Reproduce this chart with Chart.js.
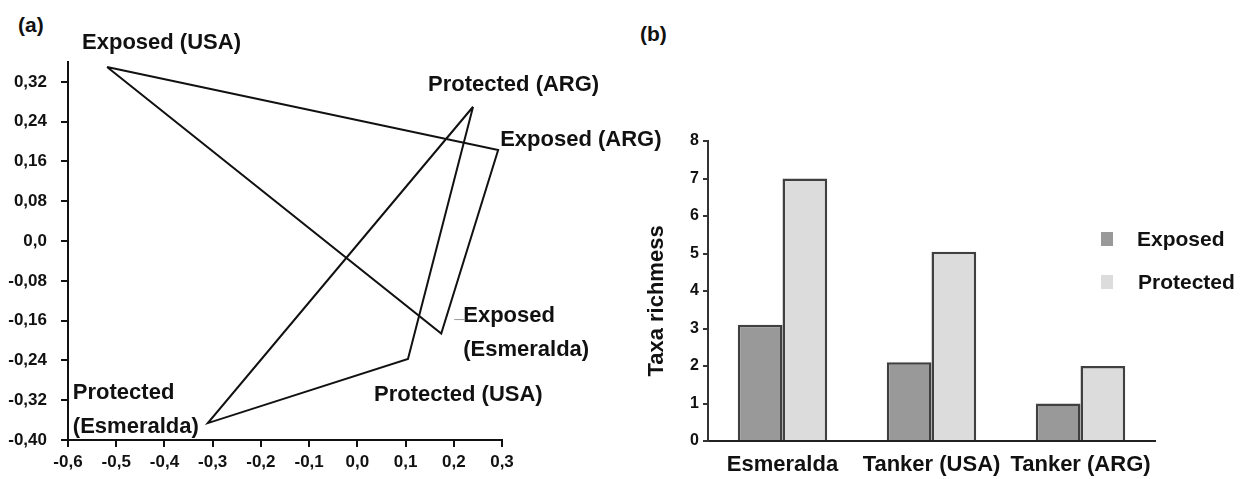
<!DOCTYPE html>
<html>
<head>
<meta charset="utf-8">
<script src="https://cdn.jsdelivr.net/npm/chart.js@4.4.0/dist/chart.umd.min.js"></script>
<style>
  body { margin: 0; background: #fff; width: 1250px; height: 479px; overflow: hidden; position: relative; font-family: 'Liberation Sans', Arial, sans-serif; }
  .box { position: absolute; top: 0; height: 479px; }
  .tag { position: absolute; font-weight: bold; font-size: 21px; line-height: 21px; color: #111; }
</style>
</head>
<body>
<div class="tag" style="left:18px; top:14px;">(a)</div>
<div class="tag" style="left:640px; top:23px;">(b)</div>
<div class="box" style="left:0; width:680px;"><canvas id="pcoa" width="680" height="479"></canvas></div>
<div class="box" style="left:620px; width:630px;"><canvas id="bars" width="630" height="479"></canvas></div>
<script>
// (a) ordination points
var siteNames = ["Exposed (USA)", "Protected (ARG)", "Exposed (ARG)", "Exposed (Esmeralda)", "Protected (USA)", "Protected (Esmeralda)"];
var siteX = [-0.519, 0.240, 0.292, 0.174, 0.105, -0.310];
var siteY = [0.350, 0.270, 0.183, -0.186, -0.237, -0.366];
var exposedOrder = [0, 2, 3, 0];
var protectedOrder = [1, 4, 5, 1];
var xTicks = [-0.6, -0.5, -0.4, -0.3, -0.2, -0.1, 0.0, 0.1, 0.2, 0.3];
var xTickLabels = ["-0,6", "-0,5", "-0,4", "-0,3", "-0,2", "-0,1", "0,0", "0,1", "0,2", "0,3"];
var yTicks = [-0.40, -0.32, -0.24, -0.16, -0.08, 0.0, 0.08, 0.16, 0.24, 0.32];
var yTickLabels = ["-0,40", "-0,32", "-0,24", "-0,16", "-0,08", "0,0", "0,08", "0,16", "0,24", "0,32"];

// (b) taxa richness
var sites = ["Esmeralda", "Tanker (USA)", "Tanker (ARG)"];
var exposedRich = [3.1, 2.1, 1.0];
var protectedRich = [7.0, 5.05, 2.0];

var BOLD = "'Liberation Sans', Arial, sans-serif";

function polyData(order) {
  return order.map(function(i) { return { x: siteX[i], y: siteY[i] }; });
}

// label offsets from each vertex (px), second line for two-line names
var labelPlace = [
  { dx: -25, dy: -18, lines: ["Exposed (USA)"] },
  { dx: -45, dy: -16, lines: ["Protected (ARG)"] },
  { dx: 2, dy: -4, lines: ["Exposed (ARG)"] },
  { dx: 22, dy: -12, lines: ["Exposed", "(Esmeralda)"] },
  { dx: -34, dy: 42, lines: ["Protected (USA)"] },
  { dx: -135, dy: -24, lines: ["Protected", "(Esmeralda)"] }
];

var siteLabels = {
  id: "siteLabels",
  afterDraw: function(chart) {
    var ctx = chart.ctx, xs = chart.scales.x, ys = chart.scales.y;
    ctx.save();
    ctx.fillStyle = "#111";
    ctx.font = "bold 22px " + BOLD;
    ctx.textAlign = "left";
    ctx.textBaseline = "alphabetic";
    siteNames.forEach(function(n, i) {
      var px = xs.getPixelForValue(siteX[i]);
      var py = ys.getPixelForValue(siteY[i]);
      var p = labelPlace[i];
      p.lines.forEach(function(t, k) {
        ctx.fillText(t, px + p.dx, py + p.dy + k * 34);
      });
    });
    // small leader mark next to Exposed (Esmeralda)
    var ex = xs.getPixelForValue(siteX[3]), ey = ys.getPixelForValue(siteY[3]);
    ctx.strokeStyle = "#999";
    ctx.lineWidth = 1;
    ctx.beginPath();
    ctx.moveTo(ex + 13, ey - 14);
    ctx.lineTo(ex + 24, ey - 14);
    ctx.stroke();
    ctx.restore();
  }
};

new Chart(document.getElementById("pcoa"), {
  type: "scatter",
  data: {
    datasets: [
      { label: "Exposed", data: polyData(exposedOrder), showLine: true, borderColor: "#111", borderWidth: 2, pointRadius: 0, tension: 0 },
      { label: "Protected", data: polyData(protectedOrder), showLine: true, borderColor: "#111", borderWidth: 2, pointRadius: 0, tension: 0 }
    ]
  },
  options: {
    responsive: false,
    animation: false,
    events: [],
    layout: { padding: { top: 62, right: 178, left: 0, bottom: 0 } },
    plugins: { legend: { display: false }, tooltip: { enabled: false } },
    scales: {
      x: {
        type: "linear", min: -0.6, max: 0.3,
        afterBuildTicks: function(s) { s.ticks = xTicks.map(function(v) { return { value: v }; }); },
        afterFit: function(s) { s.height = 39; },
        grid: { drawOnChartArea: false, tickLength: 7, color: "#111", lineWidth: 2 },
        border: { color: "#111", width: 2 },
        ticks: {
          color: "#111", padding: 5, autoSkip: false, maxRotation: 0,
          font: { family: BOLD, size: 17, weight: "bold" },
          callback: function(v, i) { return xTickLabels[i]; }
        }
      },
      y: {
        type: "linear", min: -0.40, max: 0.36,
        afterBuildTicks: function(s) { s.ticks = yTicks.map(function(v) { return { value: v }; }); },
        afterFit: function(s) { s.width = 68; },
        grid: { drawOnChartArea: false, tickLength: 7, color: "#111", lineWidth: 2 },
        border: { color: "#111", width: 2 },
        ticks: {
          color: "#111", padding: 14, autoSkip: false,
          font: { family: BOLD, size: 17, weight: "bold" },
          callback: function(v, i) { return yTickLabels[i]; }
        }
      }
    }
  },
  plugins: [siteLabels]
});

var sideLegend = {
  id: "sideLegend",
  afterDraw: function(chart) {
    var ctx = chart.ctx;
    var x0 = chart.chartArea.right - 54;
    var y0 = chart.chartArea.top + 98;
    ctx.save();
    ctx.font = "bold 21px " + BOLD;
    ctx.textBaseline = "middle";
    ctx.textAlign = "left";
    chart.data.datasets.forEach(function(ds, i) {
      var y = y0 + i * 43;
      ctx.fillStyle = ds.backgroundColor;
      ctx.fillRect(x0, y - 7, 12, 14);
      ctx.fillStyle = "#111";
      ctx.fillText(ds.label, x0 + 36 + i, y + 1);
    });
    // y axis title, sits a little below the axis middle
    var ys = chart.scales.y;
    ctx.translate(37, (ys.top + ys.bottom) / 2 + 10);
    ctx.rotate(-Math.PI / 2);
    ctx.textAlign = "center";
    ctx.font = "bold 22px " + BOLD;
    ctx.fillText("Taxa richmess", 0, 0);
    ctx.restore();
  }
};

new Chart(document.getElementById("bars"), {
  type: "bar",
  data: {
    labels: sites,
    datasets: [
      { label: "Exposed", data: exposedRich, backgroundColor: "#999999", borderColor: "#404040", borderWidth: 2.5 },
      { label: "Protected", data: protectedRich, backgroundColor: "#dcdcdc", borderColor: "#404040", borderWidth: 2.5 }
    ]
  },
  options: {
    responsive: false,
    animation: false,
    events: [],
    layout: { padding: { top: 141, right: 95, left: 0, bottom: 0 } },
    datasets: { bar: { barPercentage: 1, categoryPercentage: 0.6 } },
    plugins: { legend: { display: false }, tooltip: { enabled: false } },
    scales: {
      x: {
        afterFit: function(s) { s.height = 38; },
        grid: { display: false },
        border: { color: "#222", width: 2 },
        ticks: {
          color: "#111", padding: 3, autoSkip: false, maxRotation: 0,
          font: { family: BOLD, size: 22, weight: "bold" }
        }
      },
      y: {
        min: 0, max: 8,
        afterFit: function(s) { s.width = 88; },
        grid: { drawOnChartArea: false, tickLength: 5, color: "#333", lineWidth: 2 },
        border: { color: "#333", width: 2 },
        ticks: {
          stepSize: 1, color: "#111", padding: 4,
          font: { family: BOLD, size: 16, weight: "bold" }
        }
      }
    }
  },
  plugins: [sideLegend]
});
</script>
</body>
</html>
